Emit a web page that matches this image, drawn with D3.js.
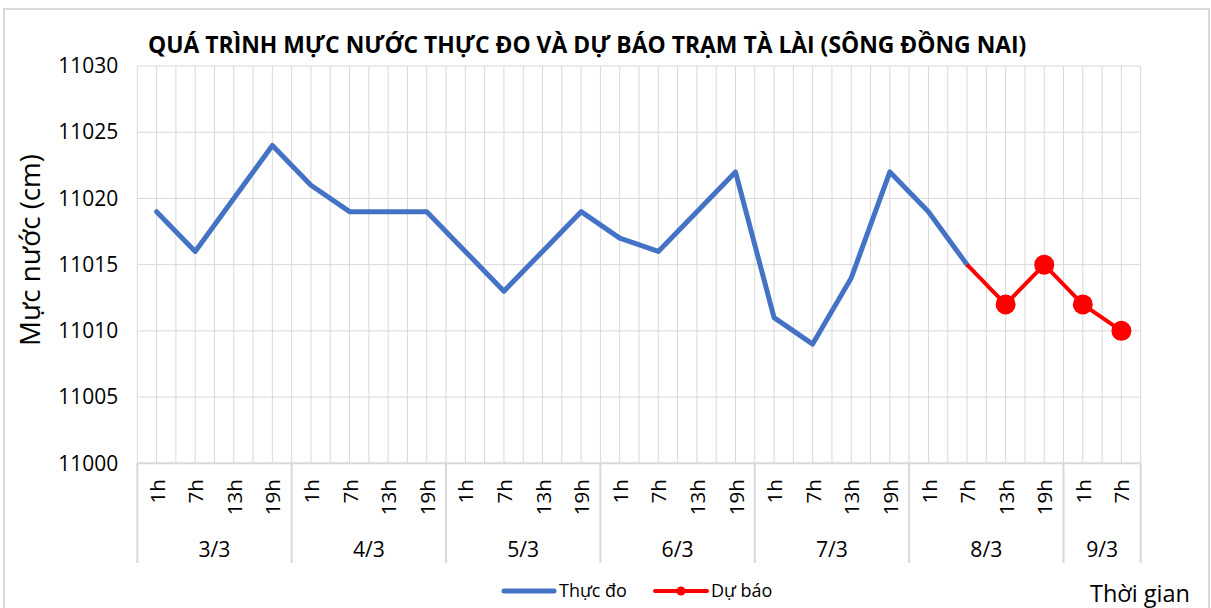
<!DOCTYPE html>
<html>
<head>
<meta charset="utf-8">
<script src="https://cdn.jsdelivr.net/npm/d3@7"></script>
<style>
  html, body { margin: 0; padding: 0; background: #fff; }
  svg { display: block; }
  text { font-family: "Open Sans", "Noto Sans", sans-serif; fill: #000; }
</style>
</head>
<body>
<svg id="chart" width="1211" height="608"></svg>
<script>
// ---- data ----
const dates = ["3/3", "4/3", "5/3", "6/3", "7/3", "8/3", "9/3"];
const hoursPerDate = [
  ["1h", "7h", "13h", "19h"],
  ["1h", "7h", "13h", "19h"],
  ["1h", "7h", "13h", "19h"],
  ["1h", "7h", "13h", "19h"],
  ["1h", "7h", "13h", "19h"],
  ["1h", "7h", "13h", "19h"],
  ["1h", "7h"]
];
const observed = [11019, 11016, 11020, 11024,
                  11021, 11019, 11019, 11019,
                  11016, 11013, 11016, 11019,
                  11017, 11016, 11019, 11022,
                  11011, 11009, 11014, 11022,
                  11019, 11015, null, null,
                  null, null];
const forecast = [null, null, null, null,
                  null, null, null, null,
                  null, null, null, null,
                  null, null, null, null,
                  null, null, null, null,
                  null, 11015, 11012, 11015,
                  11012, 11010];
const forecastMarkers = [false, false, false, false,
                         false, false, false, false,
                         false, false, false, false,
                         false, false, false, false,
                         false, false, false, false,
                         false, false, true, true,
                         true, true];
const yTicks = [11000, 11005, 11010, 11015, 11020, 11025, 11030];
const titleText = "QUÁ TRÌNH MỰC NƯỚC THỰC ĐO VÀ DỰ BÁO TRẠM TÀ LÀI (SÔNG ĐỒNG NAI)";
const yTitle = "Mực nước (cm)";
const xTitle = "Thời gian";
const seriesNames = ["Thực đo", "Dự báo"];

// ---- build categories ----
const cats = [];
dates.forEach((d, di) => hoursPerDate[di].forEach(h => cats.push({ key: d + "|" + h, date: d, hour: h, di })));

// helper: font size so that a reference node's text has the given width
function fitSize(node, base, target) {
  d3.select(node).attr("font-size", base);
  const w = node.getComputedTextLength();
  return base * target / w;
}

// ---- layout ----
const svg = d3.select("#chart");
const L = 137.3, R = 1140.7, T = 66, B = 463.3;
const gridColor = "#d9d9d9";
const blue = "#4472C4", red = "#FF0000";

// outer border
svg.append("rect").attr("x", 4).attr("y", 9).attr("width", 1205).attr("height", 620)
  .attr("fill", "#fff").attr("stroke", gridColor).attr("stroke-width", 2);

const x = d3.scalePoint().domain(cats.map(c => c.key)).range([L, R]).padding(0.5);
const step = x.step();
const y = d3.scaleLinear().domain([11000, 11030]).range([B, T]);

// vertical gridlines (category boundaries and centres)
const vLines = [];
cats.forEach((c, i) => { vLines.push(x(c.key) - step / 2); vLines.push(x(c.key)); });
vLines.push(R);
svg.append("g").selectAll("line").data(vLines).join("line")
  .attr("x1", d => d).attr("x2", d => d).attr("y1", T).attr("y2", B)
  .attr("stroke", gridColor).attr("stroke-width", 1);

// horizontal gridlines
svg.append("g").selectAll("line").data(yTicks).join("line")
  .attr("x1", L).attr("x2", R).attr("y1", d => y(d)).attr("y2", d => y(d))
  .attr("stroke", gridColor).attr("stroke-width", d => d === 11000 ? 2 : 1);

// y axis tick labels
const yAxis = d3.axisLeft(y).tickValues(yTicks).tickSize(0).tickPadding(0).tickFormat(d3.format("d"));
const ya = svg.append("g").attr("transform", `translate(${L - 19},0)`).call(yAxis);
ya.select(".domain").remove();
const yLabels = ya.selectAll("text").attr("font-family", "Open Sans").attr("fill", "#000");
const ySize = fitSize(yLabels.node(), 20, 60);
yLabels.attr("font-size", ySize);

// category axis: hour labels
const xAxis = d3.axisBottom(x).tickSize(0).tickFormat(k => cats.find(c => c.key === k).hour);
const xa = svg.append("g").attr("transform", `translate(0,${B})`).call(xAxis);
xa.select(".domain").remove();
const hLabels = xa.selectAll("text")
  .attr("font-family", "Open Sans").attr("fill", "#000")
  .attr("text-anchor", "end").attr("dy", null).attr("y", 0);
const hNode = hLabels.filter(function () { return this.textContent === "13h"; }).node();
const hSize = fitSize(hNode, 19, 36);
hLabels.attr("font-size", hSize).attr("transform", `translate(${hSize * 0.37},16) rotate(-90)`);

// date group separators and labels
let start = 0;
const groups = dates.map((d, di) => {
  const n = hoursPerDate[di].length;
  const g = { date: d, first: cats[start].key, last: cats[start + n - 1].key };
  start += n;
  return g;
});
const sepX = [L].concat(groups.map(g => x(g.last) + step / 2));
svg.append("g").selectAll("line").data(sepX).join("line")
  .attr("x1", d => d).attr("x2", d => d).attr("y1", B).attr("y2", 563)
  .attr("stroke", gridColor).attr("stroke-width", 2);
const dLabels = svg.append("g").selectAll("text").data(groups).join("text")
  .attr("x", g => (x(g.first) + x(g.last)) / 2)
  .attr("y", 557).attr("text-anchor", "middle")
  .text(g => g.date);
dLabels.attr("font-size", fitSize(dLabels.node(), 20, 32));

// series lines
const line = d3.line().defined(d => d.v !== null).x(d => x(d.k)).y(d => y(d.v));
const obsData = cats.map((c, i) => ({ k: c.key, v: observed[i] }));
const fcData = cats.map((c, i) => ({ k: c.key, v: forecast[i], m: forecastMarkers[i] }));

svg.append("path").datum(obsData).attr("d", line)
  .attr("fill", "none").attr("stroke", blue).attr("stroke-width", 5)
  .attr("stroke-linejoin", "round").attr("stroke-linecap", "round");
svg.append("path").datum(fcData).attr("d", line)
  .attr("fill", "none").attr("stroke", red).attr("stroke-width", 4)
  .attr("stroke-linejoin", "round");
svg.append("g").selectAll("circle").data(fcData.filter(d => d.v !== null && d.m)).join("circle")
  .attr("cx", d => x(d.k)).attr("cy", d => y(d.v)).attr("r", 10).attr("fill", red);

// title
const title = svg.append("text").attr("x", 148).attr("y", 53)
  .attr("font-weight", "bold").text(titleText);
title.attr("font-size", fitSize(title.node(), 21, 879));

// y title
const yt = svg.append("text").attr("transform", "translate(40,250) rotate(-90)")
  .attr("text-anchor", "middle").text(yTitle);
yt.attr("font-size", fitSize(yt.node(), 20, 192));

// x title
const xt = svg.append("text").attr("x", 1090).attr("y", 602).text(xTitle);
xt.attr("font-size", fitSize(xt.node(), 20, 100));

// legend
const lg = svg.append("g");
lg.append("line").attr("x1", 504).attr("x2", 554).attr("y1", 591).attr("y2", 591)
  .attr("stroke", blue).attr("stroke-width", 5).attr("stroke-linecap", "round");
const l1 = lg.append("text").attr("x", 559).attr("y", 597).text(seriesNames[0]);
const lSize = fitSize(l1.node(), 16, 68);
l1.attr("font-size", lSize);
lg.append("line").attr("x1", 655).attr("x2", 707).attr("y1", 591).attr("y2", 591)
  .attr("stroke", red).attr("stroke-width", 4).attr("stroke-linecap", "round");
lg.append("circle").attr("cx", 681).attr("cy", 591).attr("r", 4.5).attr("fill", red);
lg.append("text").attr("x", 711).attr("y", 597).attr("font-size", lSize).text(seriesNames[1]);
</script>
</body>
</html>
